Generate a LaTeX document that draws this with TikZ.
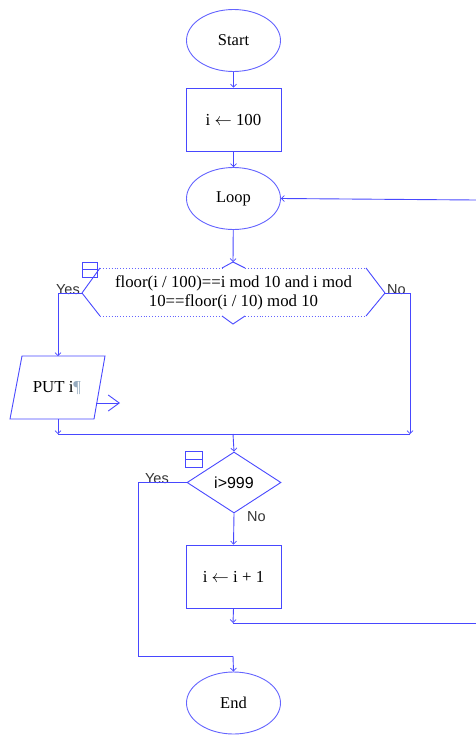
\documentclass[tikz,border=0pt]{standalone}
\usepackage{fontspec}
\setmainfont{Liberation Serif}
\newfontfamily\lsans{Liberation Sans}
\usetikzlibrary{shapes.geometric,arrows.meta}
\definecolor{fl}{RGB}{72,72,255}
\definecolor{flt}{RGB}{100,100,255}
\definecolor{pil}{RGB}{150,170,190}
\tikzset{
  ln/.style={draw=fl, line width=0.9pt},
  arr/.style={ln, -{Straight Barb[length=3pt,width=6pt,line width=0.7pt]}},
  term/.style={ellipse, draw=flt, line width=0.9pt, minimum width=94pt, minimum height=62pt, inner sep=0pt, font=\fontsize{16.5}{18}\selectfont},
  proc/.style={rectangle, draw=fl, line width=0.9pt, minimum width=95pt, minimum height=63pt, inner sep=0pt, font=\fontsize{16.8}{18}\selectfont},
  lbl/.style={font=\lsans\fontsize{14.5}{16}\selectfont, text=black!80, inner sep=0pt},
  txt/.style={font=\fontsize{16.8}{19}\selectfont, align=center, inner sep=0pt},
}
\begin{document}
\begin{tikzpicture}[x=1pt,y=-1pt]
\useasboundingbox (0,0) rectangle (476,736);

% nodes
\node[term] (start) at (233.5,40.5) {Start};
\node[proc] (init) at (233.5,119.5) {i $\leftarrow$ 100};
\node[term] (loop) at (233.5,198.5) {Loop};

% condition hexagon
\coordinate (cL) at (82,293);
\coordinate (cR) at (385,293);
\coordinate (cT) at (233,262);
\coordinate (cB) at (233,324);
\draw[ln] (cL) -- (100,268);
\draw[ln] (cL) -- (100,316);
\draw[ln] (cR) -- (366,268);
\draw[ln] (cR) -- (366,316);
\draw[draw=flt, line width=0.9pt, dotted] (100,268) -- (222,268);
\draw[draw=flt, line width=0.9pt, dotted] (245,268) -- (366,268);
\draw[draw=flt, line width=0.9pt, dotted] (100,316) -- (222,316);
\draw[draw=flt, line width=0.9pt, dotted] (245,316) -- (366,316);
\draw[ln] (222,268) -- (cT) -- (245,268);
\draw[ln] (222,316) -- (cB) -- (245,316);
\node[txt] (cond) at (233.5,292.5) {floor(i / 100)==i mod 10 and i mod\\10==floor(i / 10) mod 10};
% collapse icon
\draw[draw=fl, line width=0.9pt] (82.5,262.5) rectangle (97,277);
\draw[draw=fl, line width=0.9pt] (82.5,269.7) -- (97,269.7);
\node[lbl, anchor=south east] (yes1) at (80,294.5) {Yes};
\node[lbl, anchor=south west] (no1) at (387,294.5) {No};

% PUT parallelogram
\coordinate (putT) at (58,356);
\coordinate (putB) at (58,419);
\draw[ln] (22,356) -- (105,356) -- (94,419) -- (10,419) -- cycle;
\node[font=\fontsize{16.8}{18}\selectfont, inner sep=0pt] (put) at (57,388) {PUT i\textcolor{pil}{¶}};
\coordinate (outA) at (96,403);
\coordinate (outB) at (120,403);
\draw[draw=fl, line width=0.9pt, -{Straight Barb[length=11pt,width=16pt,line width=0.9pt]}] (outA) -- (outB);

% merge
\coordinate (mL) at (58,434);
\coordinate (mR) at (410,434);
\coordinate (mC) at (233,434);
\draw[ln] (mL) -- (mR);

% diamond
\node[diamond, draw=fl, line width=0.9pt, minimum width=94pt, minimum height=61pt, inner sep=0pt, aspect=1.55, font=\lsans\fontsize{16}{18}\selectfont] (dec) at (234,482.5) {i>999};
\draw[draw=fl, line width=0.9pt] (185.5,451.5) rectangle (202,467);
\draw[draw=fl, line width=0.9pt] (185.5,459.3) -- (202,459.3);
\node[lbl, anchor=south east] (yes2) at (169,484) {Yes};
\node[lbl, anchor=north west] (no2) at (247,511) {No};

\node[proc] (inc) at (233.5,576.5) {i $\leftarrow$ i + 1};
\node[term] (end) at (233.5,703) {End};

% right side loop back (off the picture edge)
\coordinate (bk1) at (233,623);
\coordinate (rt1) at (476,623);
\coordinate (rt2) at (476,200);

% connectors
\draw[arr] (start) -- (init);
\draw[arr] (init) -- (loop);
\draw[arr] (loop) -- (cT);
\draw[ln] (cL) -- (58,293) -- (58,300);
\draw[arr] (58,299) -- (putT);
\draw[arr] (putB) -- (mL);
\draw[ln] (cR) -- (410,293) -- (410,300);
\draw[arr] (410,299) -- (mR);
\draw[arr] (mC) -- (dec.north);
\draw[arr] (dec.south) -- (inc.north);
\draw[ln] (dec.west) -- (138,482.5) -- (138,656) -- (233,656);
\draw[arr] (233,656) -- (end.north);
\draw[arr] (inc.south) -- (bk1);
\draw[ln] (bk1) -- (rt1);
\draw[arr] (rt2) -- (loop.east);
\end{tikzpicture}
\end{document}
